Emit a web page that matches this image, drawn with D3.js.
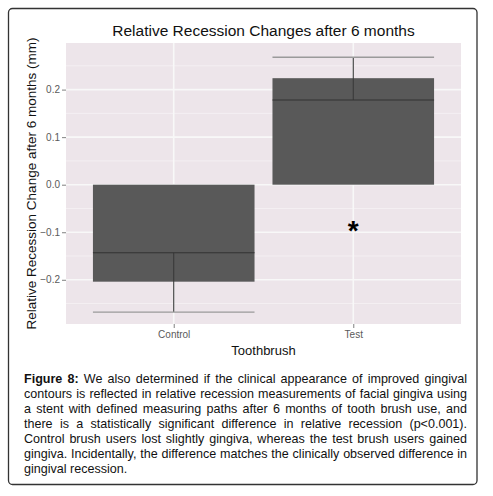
<!DOCTYPE html>
<html>
<head>
<meta charset="utf-8">
<script src="https://cdn.jsdelivr.net/npm/d3@7"></script>
<style>
  body { margin: 0; background: #fff; }
  svg { display: block; font-family: "Liberation Sans", Arial, sans-serif; }
</style>
</head>
<body>
<svg width="493" height="496"></svg>
<script>
// data
var groups = ['Control', 'Test'];
var barValues = [-0.204, 0.224];
var lineValues = [-0.143, 0.178];
var whiskerValues = [-0.268, 0.268];
var yTicks = [-0.2, -0.1, 0.0, 0.1, 0.2];
var yMinor = [-0.25, -0.15, -0.05, 0.05, 0.15, 0.25];
var starGroup = 'Test';
var starValue = -0.089;

var captionLines = [
    'Figure 8: We also determined if the clinical appearance of improved gingival',
    'contours is reflected in relative recession measurements of facial gingiva using',
    'a stent with defined measuring paths after 6 months of tooth brush use, and',
    'there is a statistically significant difference in relative recession (p<0.001).',
    'Control brush users lost slightly gingiva, whereas the test brush users gained',
    'gingiva. Incidentally, the difference matches the clinically observed difference in',
    'gingival recession.'
];

var svg = d3.select('svg');
var svgWidth = +svg.attr('width');
var svgHeight = +svg.attr('height');

var panel = {l: 66, r: 461, t: 43, b: 324};

// outer frame
svg.append('rect')
    .attr('x', 8.5).attr('y', 8.5)
    .attr('width', 468.5).attr('height', 476)
    .attr('rx', 4).attr('ry', 4)
    .style('fill', 'none')
    .style('stroke', '#333')
    .style('stroke-width', 1.3);

var x = d3.scalePoint()
    .domain(groups)
    .range([panel.l, panel.r])
    .padding(0.6);
var barW = x.step() * 0.9;

var y = d3.scaleLinear()
    .domain([-0.293, 0.298])
    .range([panel.b, panel.t]);

// panel background
svg.append('rect')
    .attr('x', panel.l).attr('y', panel.t)
    .attr('width', panel.r - panel.l).attr('height', panel.b - panel.t)
    .style('fill', '#ede5ea');

// grid
svg.append('g').selectAll('line')
    .data(yMinor).enter().append('line')
    .attr('x1', panel.l).attr('x2', panel.r)
    .attr('y1', function(d){ return y(d); })
    .attr('y2', function(d){ return y(d); })
    .style('stroke', '#f6f3f5').style('stroke-width', 0.8);
svg.append('g').selectAll('line')
    .data(yTicks).enter().append('line')
    .attr('x1', panel.l).attr('x2', panel.r)
    .attr('y1', function(d){ return y(d); })
    .attr('y2', function(d){ return y(d); })
    .style('stroke', '#f8f8f8').style('stroke-width', 1.6);
svg.append('g').selectAll('line')
    .data(groups).enter().append('line')
    .attr('y1', panel.t).attr('y2', panel.b)
    .attr('x1', function(d){ return x(d); })
    .attr('x2', function(d){ return x(d); })
    .style('stroke', '#f8f8f8').style('stroke-width', 1.6);

// bars
svg.append('g').selectAll('rect')
    .data(groups).enter().append('rect')
    .attr('x', function(d){ return x(d) - barW/2; })
    .attr('width', barW)
    .attr('y', function(d, i){ return Math.min(y(0), y(barValues[i])); })
    .attr('height', function(d, i){ return Math.abs(y(barValues[i]) - y(0)); })
    .style('fill', '#595959');

// whiskers
svg.append('g').selectAll('line')
    .data(groups).enter().append('line')
    .attr('x1', function(d){ return x(d); })
    .attr('x2', function(d){ return x(d); })
    .attr('y1', function(d, i){ return y(lineValues[i]); })
    .attr('y2', function(d, i){ return y(whiskerValues[i]); })
    .style('stroke', '#3a3a3a').style('stroke-width', 1.1);
svg.append('g').selectAll('line')
    .data(groups).enter().append('line')
    .attr('x1', function(d){ return x(d) - barW/2; })
    .attr('x2', function(d){ return x(d) + barW/2; })
    .attr('y1', function(d, i){ return y(whiskerValues[i]); })
    .attr('y2', function(d, i){ return y(whiskerValues[i]); })
    .style('stroke', '#9a9a9a').style('stroke-width', 1.3);

// mean lines
svg.append('g').selectAll('line')
    .data(groups).enter().append('line')
    .attr('x1', function(d){ return x(d) - barW/2; })
    .attr('x2', function(d){ return x(d) + barW/2; })
    .attr('y1', function(d, i){ return y(lineValues[i]); })
    .attr('y2', function(d, i){ return y(lineValues[i]); })
    .style('stroke', '#333').style('stroke-width', 1.1);

// significance star
svg.append('text')
    .attr('x', x(starGroup))
    .attr('y', y(starValue))
    .attr('dy', '0.45em')
    .attr('text-anchor', 'middle')
    .style('font-size', '28px')
    .style('font-weight', 'bold')
    .style('fill', '#000')
    .text('*');

// axes
var yAxis = svg.append('g')
    .attr('transform', 'translate(' + panel.l + ',0)')
    .call(d3.axisLeft(y).tickValues(yTicks).tickSize(4).tickPadding(2)
        .tickFormat(d3.format('.1f')));
var xAxis = svg.append('g')
    .attr('transform', 'translate(0,' + panel.b + ')')
    .call(d3.axisBottom(x).tickSize(4).tickPadding(3));
[yAxis, xAxis].forEach(function(a){
    a.select('.domain').remove();
    a.selectAll('line').style('stroke', '#808080');
    a.selectAll('text')
        .style('font-family', '"Liberation Sans", Arial, sans-serif')
        .style('font-size', '10px')
        .style('fill', '#5a5a5a');
});

// titles
svg.append('text')
    .attr('text-anchor', 'middle')
    .attr('x', (panel.l + panel.r) / 2).attr('y', 36)
    .style('font-size', '15.5px').style('fill', '#111')
    .text('Relative Recession Changes after 6 months');
svg.append('text')
    .attr('text-anchor', 'middle')
    .attr('x', (panel.l + panel.r) / 2).attr('y', 355)
    .style('font-size', '13px').style('fill', '#111')
    .text('Toothbrush');
svg.append('text')
    .attr('text-anchor', 'middle')
    .attr('transform', 'translate(36,' + ((panel.t + panel.b) / 2) + ') rotate(-90)')
    .style('font-size', '13.5px').style('fill', '#111')
    .text('Relative Recession Change after 6 months (mm)');

// caption, justified word by word; font size fitted so the
// tightest line (line 6) fills the column with plain spaces
var cap = {l: 24, r: 467, top: 382.5, lh: 15.15, size: 12};
var probe = svg.append('text').style('font-size', cap.size + 'px')
    .style('white-space', 'pre').text(captionLines[5]);
cap.size = cap.size * (cap.r - cap.l) / probe.node().getComputedTextLength() * 0.995;
probe.remove();

var capG = svg.append('g').style('font-size', cap.size + 'px').style('fill', '#111');
captionLines.forEach(function(line, li){
    var words = line.split(' ');
    var baseY = cap.top + li * cap.lh;
    var nodes = words.map(function(w, wi){
        return capG.append('text')
            .attr('y', baseY)
            .style('font-weight', (li === 0 && wi < 2) ? 'bold' : 'normal')
            .text(w);
    });
    var widths = nodes.map(function(n){ return n.node().getComputedTextLength(); });
    var total = d3.sum(widths);
    var last = li === captionLines.length - 1;
    var gap = last ? cap.size * 0.278 : (cap.r - cap.l - total) / (words.length - 1);
    var cx = cap.l;
    nodes.forEach(function(n, i){
        n.attr('x', cx);
        cx += widths[i] + gap;
    });
});
</script>
</body>
</html>
